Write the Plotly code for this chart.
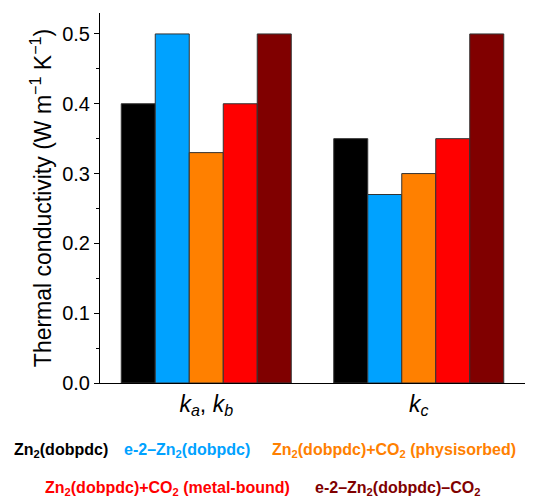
import plotly.graph_objects as go

categories = ["<i>k</i><sub><i>a</i></sub>, <i>k</i><sub><i>b</i></sub>", "<i>k</i><sub><i>c</i></sub>"]
series_names = [
    "Zn<sub>2</sub>(dobpdc)",
    "e-2–Zn<sub>2</sub>(dobpdc)",
    "Zn<sub>2</sub>(dobpdc)+CO<sub>2</sub> (physisorbed)",
    "Zn<sub>2</sub>(dobpdc)+CO<sub>2</sub> (metal-bound)",
    "e-2–Zn<sub>2</sub>(dobpdc)–CO<sub>2</sub>",
]
series_values = [
    [0.40, 0.35],
    [0.50, 0.27],
    [0.33, 0.30],
    [0.40, 0.35],
    [0.50, 0.50],
]
colors = ["#000000", "#00A2FF", "#FF8000", "#FF0000", "#800000"]

fig = go.Figure()
for name, vals, c in zip(series_names, series_values, colors):
    fig.add_trace(go.Bar(x=categories, y=vals, name=name,
                         marker=dict(color=c, line=dict(color="#333333", width=1))))

# page body has an 8px offset; figure is sized so plot lands where the reference has it
OFF = 8
W, H = 540 - OFF, 498 - OFF
L, R, T, B = 100 - OFF, 15, 13 - OFF, 115
pw, ph = W - L - R, H - T - B

def win2paper(x, y):
    return (x - OFF - L) / pw, (H - B - (y - OFF)) / ph

legend_pos = [(12, 451), (122, 451), (270, 451), (43, 488), (313, 488)]
for name, c, (x, y) in zip(series_names, colors, legend_pos):
    px, py = win2paper(x, y)
    fig.add_annotation(text="<b>" + name + "</b>", x=px, y=py, xref="paper", yref="paper",
                       xanchor="left", yanchor="middle", showarrow=False,
                       font=dict(color=c, size=16, family="Liberation Sans, Arial"))

fig.update_layout(
    width=W, height=H, margin=dict(l=L, r=R, t=T, b=B),
    plot_bgcolor="white", paper_bgcolor="white",
    barmode="group", bargap=0.2, bargroupgap=0,
    showlegend=False,
    font=dict(family="Liberation Sans, Arial", color="black"),
    xaxis=dict(showline=True, linecolor="black", linewidth=1, ticks="",
               tickfont=dict(size=23), range=[-0.5, 1.5]),
    yaxis=dict(range=[0, 0.53], tickvals=[0, 0.1, 0.2, 0.3, 0.4, 0.5], tickformat=".1f",
               showline=True, linecolor="black", linewidth=1, ticks="outside", ticklen=5,
               tickcolor="black",
               minor=dict(dtick=0.05, ticks="outside", ticklen=3, tickcolor="black"),
               showgrid=False, zeroline=False, tickfont=dict(size=20),
               title=dict(text="Thermal conductivity (W m<sup>−1</sup> K<sup>−1</sup>)",
                          font=dict(size=23), standoff=4)),
)
fig.write_html("out.html")
